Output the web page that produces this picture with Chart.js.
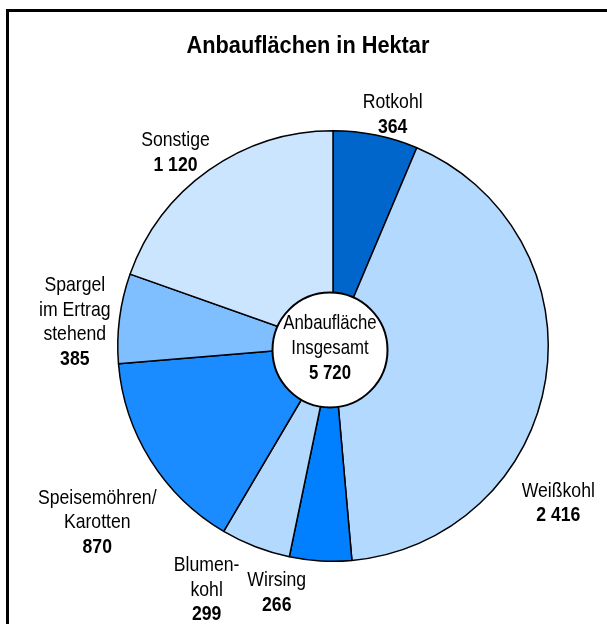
<!DOCTYPE html>
<html lang="de">
<head>
<meta charset="utf-8">
<title>Anbauflächen in Hektar</title>
<script src="https://cdn.jsdelivr.net/npm/chart.js@4/dist/chart.umd.min.js"></script>
<style>
  html, body { margin: 0; padding: 0; background: #fff; overflow: hidden; }
  #frame {
    position: absolute; left: 6px; top: 9px; width: 700px; height: 700px;
    border-top: 3px solid #000; border-left: 3px solid #000;
  }
  #chart { position: absolute; left: 0; top: 0; }
</style>
</head>
<body>
<div id="frame"></div>
<canvas id="chart" width="607" height="624"></canvas>
<script>
// ---- data ----
const categories = ['Rotkohl', 'Weißkohl', 'Wirsing', 'Blumenkohl', 'Speisemöhren/Karotten', 'Spargel im Ertrag stehend', 'Sonstige'];
const nameLines = [['Rotkohl'], ['Weißkohl'], ['Wirsing'], ['Blumen-', 'kohl'], ['Speisemöhren/', 'Karotten'], ['Spargel', 'im Ertrag', 'stehend'], ['Sonstige']];
const areas = [364, 2416, 266, 299, 870, 385, 1120];
const totalLines = ['Anbaufläche', 'Insgesamt'];

// ---- look ----
const sliceColors = ['#0066CC', '#B3D9FF', '#0080FF', '#B3D9FF', '#1A8CFF', '#80BFFF', '#CCE5FF'];
// label block offset from the point just outside each slice's middle
const labelNudge = [[11, 9], [-17, 119], [-42, 2], [-38, 15], [-28, 46], [-15, 8], [-16, 7]];
const FONT = "'Liberation Sans', Arial, sans-serif";
const NARROW = 0.84;
const LINE_H = 24.5;

function fmt(n) {
  return String(n).replace(/\B(?=(\d{3})+(?!\d))/g, ' ');
}

function narrowText(ctx, text, x, y, squeeze) {
  ctx.save();
  ctx.translate(x, y);
  ctx.scale(squeeze, 1);
  ctx.fillText(text, 0, 0);
  ctx.restore();
}

function drawBlock(ctx, lines, value, cx, cy, lh, squeeze) {
  const sq = squeeze || NARROW;
  const all = lines.length + 1;
  let y = cy - (all - 1) * lh / 2;
  ctx.font = '21px ' + FONT;
  lines.forEach(function(l) {
    narrowText(ctx, l, cx, y, sq);
    y += lh;
  });
  ctx.font = 'bold 21px ' + FONT;
  narrowText(ctx, fmt(value), cx, y, sq);
}

const pieLabels = {
  id: 'pieLabels',
  afterDraw: function(chart) {
    const ctx = chart.ctx;
    const arcs = chart.getDatasetMeta(0).data;
    ctx.save();
    ctx.fillStyle = '#000';
    ctx.textAlign = 'center';
    ctx.textBaseline = 'middle';

    // title
    ctx.font = 'bold 23px ' + FONT;
    narrowText(ctx, 'Anbauflächen in Hektar', 308, 47, 0.945);

    // outside labels
    arcs.forEach(function(arc, i) {
      const mid = (arc.startAngle + arc.endAngle) / 2;
      const r = arc.outerRadius + 30;
      const x = arc.x + Math.cos(mid) * r + labelNudge[i][0];
      const y = arc.y + Math.sin(mid) * r + labelNudge[i][1];
      drawBlock(ctx, nameLines[i], areas[i], x, y, LINE_H);
    });

    // total in the middle
    const c = arcs[0];
    const total = areas.reduce(function(a, b) { return a + b; }, 0);
    ctx.beginPath();
    ctx.arc(c.x - 3, c.y + 4, 57.5, 0, Math.PI * 2);
    ctx.fillStyle = '#fff';
    ctx.fill();
    ctx.lineWidth = 2;
    ctx.strokeStyle = '#000';
    ctx.stroke();
    ctx.fillStyle = '#000';
    drawBlock(ctx, totalLines, total, c.x - 3, c.y + 2, 25, 0.8);
    ctx.restore();
  }
};

new Chart(document.getElementById('chart'), {
  type: 'pie',
  data: {
    labels: categories,
    datasets: [{
      data: areas,
      backgroundColor: sliceColors,
      borderColor: '#000',
      borderWidth: 1.5
    }]
  },
  options: {
    responsive: false,
    animation: false,
    layout: { padding: { top: 130, bottom: 62, left: 117, right: 58 } },
    plugins: {
      legend: { display: false },
      tooltip: { enabled: false }
    }
  },
  plugins: [pieLabels]
});
</script>
</body>
</html>
